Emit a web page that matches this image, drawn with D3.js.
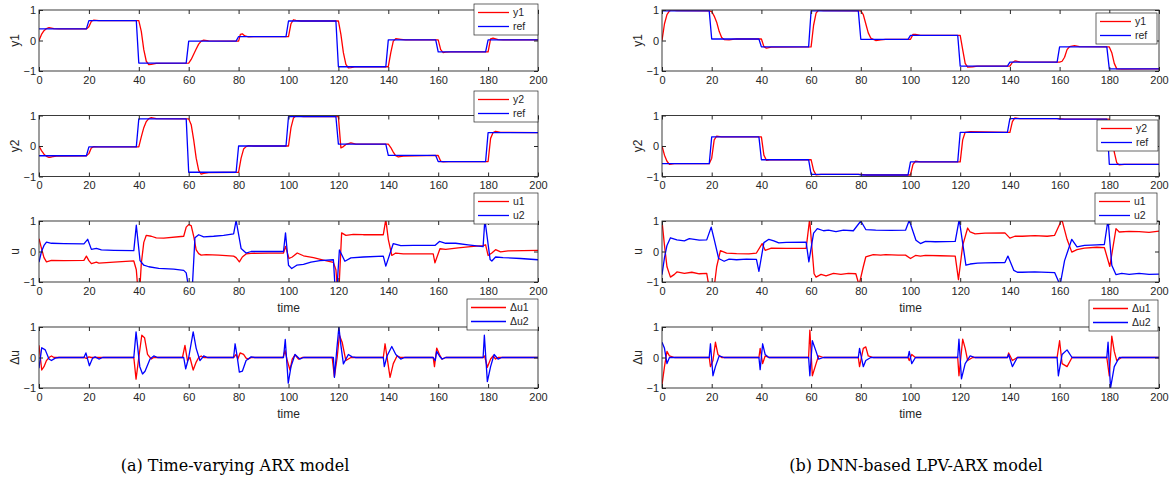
<!DOCTYPE html>
<html>
<head>
<meta charset="utf-8">
<script src="https://cdn.jsdelivr.net/npm/d3@7"></script>
<style>
body { margin: 0; background: #fff; }
svg { display: block; }
text { font-family: "Liberation Sans", Arial, sans-serif; fill: #262626; }
</style>
</head>
<body>
<svg id="chart" width="1171" height="481"></svg>
<script>
// ticks
const xTicks = [0, 20, 40, 60, 80, 100, 120, 140, 160, 180, 200];
const yTicks = [-1, 0, 1];

// (a) time-varying ARX model, [time, value]
const aRef1 = [[0,.38],[19,.38],[20,.65],[39,.65],[40,-.74],[59,-.74],[60,-.02],[79,-.02],[80,.13],[99,.13],[100,.64],[119,.64],[120,-.86],[139,-.86],[140,.02],[159,.02],[160,-.37],[179,-.37],[180,.02],[200,.02]];
const aY1 = [[0,0],[1,.2],[2,.32],[3,.39],[4,.42],[6,.39],[8,.38],[19,.38],[20,.45],[21,.63],[22,.67],[24,.65],[40,.65],[41,.3],[42,-.3],[43,-.68],[44,-.79],[45,-.78],[47,-.75],[60,-.74],[61,-.62],[62,-.45],[63,-.28],[64,-.12],[65,-.02],[66,.01],[68,-.01],[80,-.02],[80.7,.2],[81.5,.22],[82.5,.15],[84,.12],[86,.13],[100,.13],[101,.55],[102,.68],[103,.66],[105,.64],[120,.64],[121,.2],[122,-.4],[123,-.78],[124,-.9],[125,-.89],[127,-.86],[140,-.86],[141,-.4],[142,-.02],[143,.06],[145,.04],[147,.02],[160,.02],[161,-.3],[162,-.4],[163,-.38],[165,-.37],[180,-.37],[181,.05],[182,.08],[184,.03],[186,.02],[200,.02]];
const aRef2 = [[0,-.32],[19,-.32],[20,-.03],[39,-.03],[40,.89],[59,.89],[60,-.86],[79,-.86],[80,0],[99,0],[100,.96],[119,.96],[120,.06],[139,.06],[140,-.31],[159,-.31],[160,-.51],[179,-.51],[180,.44],[200,.44]];
const aY2 = [[0,0],[1,-.15],[2,-.27],[3,-.34],[4,-.37],[5,-.36],[7,-.33],[19,-.32],[20,-.25],[21,-.06],[22,-.02],[24,-.03],[40,-.03],[41,.3],[42,.6],[43,.8],[44,.9],[45,.93],[47,.9],[60,.89],[61,.7],[62,.2],[63,-.4],[64,-.8],[65,-.92],[66,-.9],[68,-.87],[80,-.86],[81,-.4],[82,-.1],[83,-.02],[84,.01],[86,0],[100,0],[101,.6],[102,.92],[103,.99],[104,.98],[106,.96],[120,.96],[121,-.06],[122,-.02],[123,.05],[125,.1],[127,.06],[140,.06],[141,-.05],[142,-.2],[143,-.32],[144,-.36],[146,-.33],[160,-.31],[161,-.5],[162,-.52],[164,-.51],[180,-.51],[181,.25],[182,.44],[183,.48],[185,.45],[200,.44]];
const aU1 = [[0,.42],[1,.1],[2,-.2],[3,-.34],[5,-.29],[10,-.3],[18,-.29],[19,-.15],[20,-.3],[21,-.4],[23,-.35],[24,-.38],[30,-.35],[38,-.31],[39,-.6],[39.5,-1.1],[40.5,-1.1],[41,-.4],[42,.3],[43,.53],[45,.5],[47,.45],[50,.44],[58,.5],[59,.8],[60,.88],[61,.85],[62,.5],[63,.05],[64,-.07],[65,-.12],[67,-.1],[72,-.12],[78,-.15],[79,-.2],[80.3,-.34],[81.5,-.18],[83,-.08],[85,-.06],[92,-.05],[98,-.05],[98.8,.17],[100.2,-.23],[101.5,-.18],[103.5,-.05],[106,-.14],[110,-.2],[114,-.28],[118,-.36],[119,-.6],[119.5,-1.1],[120.3,-1.1],[121.3,.61],[123,.53],[126,.56],[130,.55],[138,.55],[139,1.05],[140,.4],[141.4,-.13],[143,-.05],[146,-.08],[152,-.08],[158,-.08],[158.7,-.37],[160.7,.09],[163,.07],[168,.12],[173,.16],[178,.19],[179,.22],[180,-.13],[181.5,-.05],[183,.06],[185,-.01],[188,.02],[194,.03],[200,.04]];
const aU2 = [[0,-.35],[1,0],[2,.2],[3,.31],[5,.27],[10,.26],[18,.25],[19.5,.4],[21,.07],[23,.1],[25,.05],[30,.04],[38,.03],[39,.86],[40.5,-.3],[42,-.45],[44,-.5],[48,-.55],[54,-.58],[58,-.62],[59,-.7],[59.8,-1.1],[61.5,-1.1],[62.5,.45],[64,.55],[66,.48],[70,.5],[74,.53],[78,.58],[79,1.02],[81,.1],[83,-.05],[85,0],[92,0],[98,0],[98.8,.61],[100,-.45],[101.3,-.56],[103.3,-.45],[106,-.42],[109,-.35],[112.6,-.3],[118,-.27],[118.6,-1.1],[119.5,-1.1],[120.4,.05],[122.6,-.32],[125,-.21],[130,-.18],[138,-.15],[139,-.48],[142,.26],[145,.19],[150,.2],[158.7,.2],[160.5,.33],[163,.27],[167,.27],[172,.22],[178,.16],[178.7,1.05],[180.8,-.26],[181.5,-.31],[183,-.18],[186,-.2],[193,-.23],[200,-.27]];
const aDU1 = [[0,.4],[1.1,-.41],[2,-.3],[3,-.1],[4,0],[5,.05],[6,0],[18,0],[19,-.03],[20,.02],[21,0],[38,0],[38.9,-.71],[40,0],[41.2,.73],[42.3,.65],[43.5,.1],[45,-.05],[46,0],[57.5,0],[58.5,.4],[59.5,-.1],[60.5,0],[61.8,-.41],[63,-.15],[64,0],[65,.05],[66,0],[78,0],[79,.1],[79.7,-.05],[80.6,.15],[82,.1],[83,-.02],[84,-.05],[85,0],[97.8,0],[98.6,.23],[99.5,-.1],[100.6,-.41],[101.5,-.05],[102.6,.09],[104,-.05],[105.5,0],[117.5,0],[118.4,-.63],[119.5,0],[120.4,.73],[121.5,.5],[123,-.1],[124,-.05],[125,0],[138,0],[138.7,.45],[139.7,-.1],[140.7,-.65],[142,-.2],[143.5,.05],[145,0],[158,0],[158.5,-.3],[159.4,.31],[160.5,.1],[161.5,-.05],[163,0],[178,0],[178.6,.05],[179.7,-.32],[181,-.05],[182,.05],[183,-.05],[184,0],[200,0]];
const aDU2 = [[0,-.35],[1.1,.32],[2.5,.25],[4,-.05],[5,-.1],[6.5,-.02],[8,0],[18,0],[18.8,.15],[20.2,-.27],[21.5,-.02],[22.5,.02],[24,-.05],[25.5,0],[38,0],[38.9,.84],[40.4,-.3],[41.5,-.54],[42.5,-.45],[44.5,-.05],[46,.05],[47.5,0],[58,0],[58.8,-.37],[60,0],[61.8,.84],[63,.3],[64.5,-.1],[66,.05],[67.5,0],[78,0],[78.6,.45],[79.3,.1],[80.3,-.48],[81.5,-.45],[83,-.1],[85,.02],[86.5,0],[98,0],[98.7,.59],[99.9,-.84],[101,-.3],[102.6,.1],[104.5,-.05],[106,0],[118,0],[118.4,-.65],[119.4,.3],[120.2,1.0],[121,.4],[122,-.21],[124,.1],[125.5,.02],[127,0],[138,0],[138.4,-.3],[139.5,.05],[141.4,.36],[143,.1],[145,-.05],[146.5,0],[158,0],[158.8,-.1],[159.4,.2],[160.5,.05],[161.5,-.05],[163,0],[178,0],[178.5,.73],[179.7,-.79],[181,-.3],[182.4,.1],[184,-.05],[185.5,0],[200,0]];

// (b) DNN-based LPV-ARX model
const bRef1 = [[0,.97],[19,.97],[20,.05],[39,.05],[40,-.21],[59,-.21],[60,.97],[79,.97],[80,.04],[99,.04],[100,.17],[119,.17],[120,-.84],[139,-.84],[140,-.71],[159,-.71],[160,-.21],[179,-.21],[180,-.93],[200,-.93]];
const bY1 = [[0,0],[1,.55],[2,.85],[3,.97],[4,1.0],[6,.98],[19,.97],[20,.95],[21,.8],[22,.6],[23,.3],[24,.1],[25,.03],[27,.02],[30,.05],[40,.05],[41,-.2],[42,-.25],[44,-.22],[60,-.21],[61,.5],[62,.9],[63,1.0],[65,.98],[80,.97],[81,.85],[82,.55],[83,.25],[84,.08],[86,0],[88,.02],[90,.04],[100,.04],[101,.2],[102,.2],[104,.17],[120,.17],[121,-.3],[122,-.75],[123,-.87],[125,-.86],[127,-.84],[140,-.84],[141,-.72],[142,-.67],[144,-.7],[160,-.71],[161,-.68],[162,-.55],[163,-.3],[164,-.2],[166,-.17],[168,-.2],[180,-.21],[181,-.4],[182,-.75],[183,-.93],[185,-.94],[200,-.93]];
const bRef2 = [[0,-.58],[19,-.58],[20,.3],[39,.3],[40,-.45],[59,-.45],[60,-.93],[79,-.93],[80,-.95],[99,-.95],[100,-.52],[119,-.52],[120,.45],[139,.45],[140,.9],[159,.9],[160,.88],[179,.88],[180,-.6],[200,-.6]];
const bY2 = [[0,0],[1,-.3],[2,-.5],[3,-.6],[5,-.58],[19,-.58],[20,-.4],[21,.2],[22,.32],[24,.3],[40,.3],[41,-.3],[42,-.47],[44,-.45],[60,-.45],[61,-.8],[62,-.95],[64,-.93],[80,-.93],[82,-.95],[100,-.95],[101,-.6],[102,-.5],[104,-.52],[120,-.52],[121,.2],[122,.45],[124,.47],[140,.45],[141,.8],[142,.92],[144,.9],[160,.9],[162,.88],[180,.88],[181,.5],[182,-.2],[183,-.55],[184,-.62],[186,-.6],[200,-.6]];
const bU1 = [[0,1.0],[1,.2],[2,-.5],[3.4,-.84],[5,-.75],[6,-.67],[9,-.72],[12,-.68],[15,-.73],[18,-.72],[18.8,-1.1],[21.1,-1.1],[22,-.5],[23.5,.03],[26,-.05],[30,-.07],[35,-.08],[38,-.05],[40.3,.26],[41.5,.04],[44,.11],[50,.1],[58,.1],[59.4,1.05],[61.2,-.73],[62,-.84],[64,-.75],[66,-.8],[69,-.72],[72,-.75],[75,-.72],[78,-.73],[79.3,-1.1],[81,-.5],[82,-.18],[85,-.1],[88,-.12],[90,-.1],[95,-.12],[98,-.12],[100,-.23],[102,-.13],[104,-.15],[106,-.13],[112,-.14],[118,-.15],[119.3,-.92],[121,.2],[123,.77],[124,.64],[126,.58],[130,.6],[138,.61],[140,.44],[142,.5],[145,.5],[150,.52],[155,.5],[158,.53],[160.9,1.05],[163,.4],[164.9,-.02],[167,.06],[170,.11],[175,.14],[178,.13],[180.2,-.49],[182.7,.75],[184,.64],[188,.66],[192,.65],[196,.63],[200,.67]];
const bU2 = [[0,-.76],[1,-.2],[2,.2],[3.4,.45],[6,.38],[9,.35],[11,.42],[15,.37],[18,.38],[19.8,.8],[21,.4],[22.8,-.23],[25,-.32],[27,-.25],[30,-.27],[34,-.25],[38,-.26],[39,-.65],[41,.29],[43,.4],[45,.35],[47,.28],[50,.3],[58,.31],[59.1,-.34],[61,.6],[62.5,.75],[65,.68],[67,.7],[70,.65],[73,.7],[77,.68],[80,1.0],[82,.72],[86,.7],[92,.69],[98,.7],[99.5,1.02],[102.2,.37],[104,.26],[106,.33],[110,.32],[118,.33],[119.6,1.05],[122.3,-.45],[124,-.41],[127,-.38],[130,-.37],[138,-.36],[139.2,-.15],[141.6,-.62],[143,-.68],[145,-.68],[150,-.67],[158,-.69],[160.2,-1.1],[162,-.3],[164.9,.4],[167,.15],[170,.2],[175,.22],[178,.23],[179.5,1.05],[181,-.45],[182.7,-.76],[185,-.72],[188,-.75],[192,-.72],[196,-.75],[200,-.74]];
const bDU1 = [[0,-.9],[1,-.3],[2,.2],[3,.05],[5,0],[19,0],[19.5,-.3],[20.5,-.1],[21.5,.5],[22.5,.1],[24,0],[39,0],[39.5,.3],[40.5,-.2],[41.5,.05],[43,0],[59,0],[59.5,.9],[60.5,-.6],[62,-.2],[63,.05],[65,0],[79,0],[79.5,-.3],[81,.3],[82,.35],[83,.05],[85,0],[99,0],[99.5,-.1],[100.5,.1],[102,0],[119,0],[119.5,-.6],[121,.6],[122,.3],[123,-.1],[125,0],[139,0],[139.5,.15],[141,-.1],[143,0],[159,0],[160,.55],[161,-.2],[163,-.3],[165,0],[179,0],[180,-.6],[181,.7],[182,.2],[183,-.1],[185,0],[200,0]];
const bDU2 = [[0,.5],[1,.3],[2,-.2],[3,0],[5,0],[19,0],[19.5,.45],[20.5,-.6],[21.5,-.3],[23,.05],[25,0],[39,0],[39.5,-.4],[40.5,.45],[41.5,.1],[43,0],[59,0],[59.5,-.6],[60.5,.55],[62,.2],[63,-.05],[65,0],[79,0],[79.5,.3],[81,-.3],[82,-.1],[84,0],[99,0],[99.5,.2],[100.5,-.2],[102,0],[119,0],[119.5,.6],[120.5,-.7],[122,-.2],[124,.05],[126,0],[139,0],[139.5,.1],[141,-.3],[143,0],[159,0],[159.5,-.6],[161,.1],[163,.25],[165,0],[179,0],[179.5,.5],[180.5,-1.0],[182,-.3],[184,0],[200,0]];

const RED = "#ff0000", BLUE = "#0000ff";

const rowTop = [10, 115.5, 221, 327], rowH = 61;

const panels = [
  { x0: 39, x1: 538, caption: "(a) Time-varying ARX model", capX: 235,
    rows: [
      { label: "y1", series: [[aY1, "y1", RED], [aRef1, "ref", BLUE]], lg: [474, 4, 64] },
      { label: "y2", series: [[aY2, "y2", RED], [aRef2, "ref", BLUE]], lg: [474, 91, 64] },
      { label: "u", series: [[aU1, "u1", RED], [aU2, "u2", BLUE]], lg: [474, 193, 64], time: true },
      { label: "Δu", series: [[aDU1, "Δu1", RED], [aDU2, "Δu2", BLUE]], lg: [467, 299, 71], time: true }
    ] },
  { x0: 662, x1: 1159, caption: "(b) DNN-based LPV-ARX model", capX: 916,
    rows: [
      { label: "y1", series: [[bY1, "y1", RED], [bRef1, "ref", BLUE]], lg: [1096, 13, 61] },
      { label: "y2", series: [[bY2, "y2", RED], [bRef2, "ref", BLUE]], lg: [1097, 120, 61] },
      { label: "u", series: [[bU1, "u1", RED], [bU2, "u2", BLUE]], lg: [1095, 193, 62], time: true },
      { label: "Δu", series: [[bDU1, "Δu1", RED], [bDU2, "Δu2", BLUE]], lg: [1089, 300, 69], time: true }
    ] }
];

const svg = d3.select("#chart");
let clipId = 0;

panels.forEach(p => {
  p.rows.forEach((r, i) => {
    const top = rowTop[i];
    const x = d3.scaleLinear().domain([0, 200]).range([p.x0, p.x1]);
    const y = d3.scaleLinear().domain([-1, 1]).range([top + rowH, top]);
    const g = svg.append("g");

    const cid = "clip" + (clipId++);
    g.append("clipPath").attr("id", cid)
      .append("rect").attr("x", p.x0).attr("y", top).attr("width", p.x1 - p.x0).attr("height", rowH);

    const line = d3.line().x(d => x(d[0])).y(d => y(d[1]));
    const lines = g.append("g").attr("clip-path", "url(#" + cid + ")");
    r.series.forEach(s => {
      lines.append("path").datum(s[0])
        .attr("d", line)
        .attr("fill", "none")
        .attr("stroke", s[2])
        .attr("stroke-width", 1.3)
        .attr("stroke-linejoin", "round");
    });

    // axes, ticks pointing inward
    const ax = [
      [d3.axisBottom(x).tickValues(xTicks).tickPadding(5), "translate(0," + (top + rowH) + ")"],
      [d3.axisTop(x).tickValues(xTicks).tickFormat(""), "translate(0," + top + ")"],
      [d3.axisLeft(y).tickValues(yTicks).tickPadding(3).tickFormat(d3.format("d")), "translate(" + p.x0 + ",0)"],
      [d3.axisRight(y).tickValues(yTicks).tickFormat(""), "translate(" + p.x1 + ",0)"]
    ];
    ax.forEach(a => {
      const ag = g.append("g").attr("transform", a[1])
        .call(a[0].tickSizeInner(-4).tickSizeOuter(0));
      ag.select(".domain").remove();
      ag.selectAll("line").attr("stroke", "#262626");
      ag.selectAll("text").attr("font-size", 11).attr("fill", "#262626")
        .attr("font-family", '"Liberation Sans", Arial, sans-serif');
    });

    g.append("rect")
      .attr("x", p.x0).attr("y", top).attr("width", p.x1 - p.x0).attr("height", rowH)
      .attr("fill", "none").attr("stroke", "#262626").attr("stroke-width", 0.9);

    g.append("text")
      .attr("transform", "translate(" + (p.x0 - 24) + "," + (top + rowH / 2) + ") rotate(-90)")
      .attr("text-anchor", "middle").attr("dy", "0.35em")
      .attr("font-size", 12).text(r.label);

    if (r.time) {
      g.append("text")
        .attr("x", (p.x0 + p.x1) / 2).attr("y", top + rowH + 26)
        .attr("text-anchor", "middle").attr("dy", "0.35em")
        .attr("font-size", 12).text("time");
    }

    // legend
    const [lx, ly, lw] = r.lg;
    const lgd = g.append("g");
    lgd.append("rect").attr("x", lx).attr("y", ly).attr("width", lw).attr("height", 31)
      .attr("fill", "#fff").attr("stroke", "#262626").attr("stroke-width", 0.7);
    const sampleW = lw > 66 ? 35 : 31;
    r.series.forEach((s, k) => {
      const yy = ly + 8.5 + k * 14;
      lgd.append("line").attr("x1", lx + 4).attr("x2", lx + 4 + sampleW)
        .attr("y1", yy).attr("y2", yy).attr("stroke", s[2]).attr("stroke-width", 1.3);
      lgd.append("text").attr("x", lx + 8 + sampleW).attr("y", yy).attr("dy", "0.35em")
        .attr("font-size", 10.5).text(s[1]);
    });
  });

  svg.append("text")
    .attr("x", p.capX).attr("y", 471)
    .attr("text-anchor", "middle")
    .style("font-family", '"DejaVu Serif", serif')
    .style("fill", "#000")
    .attr("font-size", 16)
    .text(p.caption);
});
</script>
</body>
</html>
